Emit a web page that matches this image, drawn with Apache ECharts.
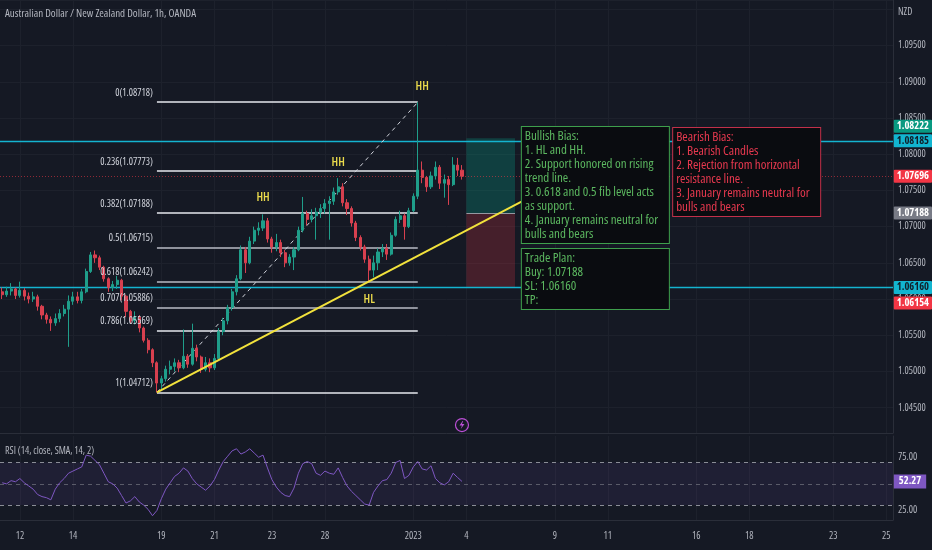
<!DOCTYPE html>
<html><head><meta charset="utf-8">
<script src="https://cdn.jsdelivr.net/npm/echarts@6/dist/echarts.min.js"></script>
<style>html,body{margin:0;padding:0;background:#151924;}#c{width:932px;height:550px;}</style>
</head><body><div id="c"></div>
<script>
const FAMILY = '"Open Sans"';
const NARROW = 'condensed';

// ---- price data (4h buckets) ----
const firstOpen = 1.0610;
const closes = [1.0606,1.0611,1.0614,1.0605,1.0612,1.0604,1.0600,1.0603,1.0590,1.0578,
  1.0572,1.0567,1.0573,1.0580,1.0586,1.0597,1.0603,1.0598,1.0610,1.0638,
  1.0661,1.0657,1.0644,1.0628,1.0616,1.0620,1.0626,1.0604,1.0583,1.0570,
  1.0575,1.0560,1.0543,1.0530,1.0512,1.0484,1.0490,1.0503,1.0507,1.0512,
  1.0505,1.0521,1.0510,1.0532,1.0520,1.0503,1.0512,1.0505,1.0518,1.0555,
  1.0570,1.0588,1.0610,1.0628,1.0668,1.0650,1.0680,1.0695,1.0698,1.0708,
  1.0683,1.0672,1.0678,1.0664,1.0650,1.0658,1.0668,1.0695,1.0718,1.0710,
  1.0715,1.0720,1.0725,1.0732,1.0735,1.0748,1.0755,1.0733,1.0725,1.0705,
  1.0685,1.0672,1.0655,1.0640,1.0650,1.0665,1.0670,1.0662,1.0688,1.0710,
  1.0715,1.0700,1.0722,1.0742,1.0778,1.0768,1.0755,1.0770,1.0782,1.0760,
  1.0765,1.0758,1.0785,1.0778,1.07696];
const highs = [1.0616,1.0617,1.0622,1.0616,1.0624,1.0615,1.0609,1.0610,1.0606,1.0592,
  1.0581,1.0576,1.0580,1.0586,1.0592,1.0605,1.0610,1.0610,1.0614,1.0642,
  1.0665,1.0667,1.0660,1.0646,1.0630,1.0625,1.0632,1.0628,1.0606,1.0585,
  1.0583,1.0578,1.0562,1.0546,1.0532,1.0514,1.0494,1.0508,1.0515,1.0518,
  1.0516,1.0558,1.0524,1.0566,1.0537,1.0522,1.0520,1.0518,1.0524,1.0560,
  1.0574,1.0592,1.0614,1.0633,1.0674,1.0672,1.0686,1.0700,1.0706,1.0717,
  1.0712,1.0686,1.0690,1.0682,1.0668,1.0662,1.0672,1.0700,1.0741,1.0722,
  1.0724,1.0726,1.0731,1.0738,1.0742,1.0754,1.0767,1.0760,1.0738,1.0728,
  1.0708,1.0688,1.0675,1.0660,1.0660,1.0670,1.0676,1.0676,1.0692,1.0714,
  1.0722,1.0718,1.0726,1.0746,1.08718,1.0790,1.0770,1.0776,1.0790,1.0785,
  1.0772,1.0770,1.0796,1.0795,1.0785];
const lows = [1.0600,1.0603,1.0605,1.0600,1.0602,1.0598,1.0594,1.0596,1.0584,1.0572,
  1.0566,1.0556,1.0563,1.0568,1.0576,1.0534,1.0592,1.0594,1.0594,1.0608,
  1.0636,1.0650,1.0640,1.0624,1.0610,1.0611,1.0614,1.0598,1.0575,1.0566,
  1.0565,1.0554,1.0540,1.0525,1.0506,1.04712,1.0474,1.0486,1.0496,1.0500,
  1.0499,1.0503,1.0505,1.0508,1.0514,1.0498,1.0500,1.0499,1.0502,1.0516,
  1.0550,1.0565,1.0584,1.0605,1.0626,1.0636,1.0648,1.0676,1.0688,1.0694,
  1.0678,1.0664,1.0666,1.0658,1.0644,1.0646,1.0640,1.0666,1.0692,1.0702,
  1.0706,1.0682,1.0712,1.0718,1.0682,1.0730,1.0744,1.0728,1.0716,1.0700,
  1.0680,1.0667,1.0650,1.0624,1.0630,1.0640,1.0658,1.0654,1.0660,1.0686,
  1.0705,1.0682,1.0698,1.0720,1.0738,1.0760,1.0748,1.0752,1.0765,1.0752,
  1.0740,1.0730,1.0756,1.0770,1.0765];
const rsiValues = [51,50,53,52,55,51,48,45,40,38,
  37,35,45,51,55,60,62,64,66,77,
  76,72,68,60,52,50,46,39,32,34,
  38,33,30,26,20,25,36,45,51,57,
  60,65,62,55,50,47,44,48,54,63,
  71,76,81,83,78,80,83,79,75,77,
  65,54,47,42,39,38,46,60,69,71,
  69,60,58,62,60,59,65,56,48,43,
  39,35,31,30,42,48,53,54,60,70,
  72,55,58,66,71,64,63,67,55,51,
  49,52,60,56,52.27];

// ---- time axis (trading-time buckets) ----
const slotCount = 202;
const xTickSlots  = [4,16,36,48,61,73,93,105,125,137,157,169,188,200];
const xTickLabels = ['12','14','19','21','23','28','2023','4','9','11','16','18','23','25'];

// ---- axes ----
const priceMin = 1.0415, priceMax = 1.1013;
const priceTicks = [1.045,1.05,1.055,1.06,1.065,1.07,1.075,1.08,1.085,1.09,1.095];
const rsiMin = 16, rsiMax = 95;
const rsiTicks = [25, 75];
const rsiLevels = [70, 50, 30];

// ---- drawings ----
const fibRatios = ['0','0.236','0.382','0.5','0.618','0.707','0.786','1'];
const fibPrices = [1.08718,1.07773,1.07188,1.06715,1.06242,1.05886,1.05569,1.04712];
const fibColors = ['#e6e8ee','#e6e8ee','#e6e8ee','#b8bbc4','#b8bbc4','#b8bbc4','#e6e8ee','#e6e8ee'];
const fibStartSlot = 35, fibEndSlot = 94;
const swingTexts = ['HH','HH','HH','HL'];
const swingSlots = [59,76,95,83];
const swingPrices = [1.0740,1.0788,1.0893,1.0599];
const trendFrom = [35, 1.04712], trendTo = [118, 1.07364];
const horizLevels = [1.08185, 1.06160];
const lastPrice = 1.07696;
const zoneSlots = [105, 116];
const tpPrice = 1.08222, entryPrice = 1.07188, slPrice = 1.06160;
const eventSlot = 104, eventPrice = 1.0426;

const bullishText = ['Bullish Bias:','1. HL and HH.','2. Support honored on rising','trend line.','3. 0.618 and 0.5 fib level acts','as support.','4. January remains neutral for','bulls and bears'];
const planText = ['Trade Plan:','Buy: 1.07188','SL: 1.06160','TP:'];
const bearishText = ['Bearish Bias:','1. Bearish Candles','2. Rejection from horizontal','resistance line.','3. January remains neutral for','bulls and bears'];
const noteAnchors = [[118, 1.08377],[118, 1.06691],[152, 1.08363]];

const tagValues = [1.08222, 1.08185, 1.07696, 1.07188, 1.06160, 1.06154];
const tagBg = ['#089981','#12b5d0','#f23645','#787b86','#12b5d0','#f23645'];
const tagFg = ['#ffffff','#10202a','#ffffff','#ffffff','#10202a','#ffffff'];
const tagShift = [-12, 0, 0, 0, 0, 15];

// ---- build ----
const cats = [];
for (let i = 0; i < slotCount; i++) cats.push('');
xTickSlots.forEach((s, i) => { cats[s] = xTickLabels[i]; });

const candles = closes.map((c, i) => [i === 0 ? firstOpen : closes[i - 1], c, lows[i], highs[i]]);
const showTick = (idx, val) => val !== '';
const lastCat = slotCount - 1;
const txt = (size, extra) => Object.assign({ fontFamily: FAMILY, fontStyle: NARROW, fontSize: size }, extra || {});

const fibLines = fibPrices.map((p, i) => [
  { coord: [fibStartSlot, p], lineStyle: { color: fibColors[i], width: 1.5, type: 'solid' } },
  { coord: [fibEndSlot, p] }
]);

const noteLabel = (lines, color, border, dx) => txt(13, {
  show: true, position: [0, 0], offset: [dx, 0], formatter: lines.join('\n'),
  color: color, lineHeight: 14, width: 141, overflow: 'none',
  backgroundColor: '#0a0c10', borderColor: border, borderWidth: 1, padding: [2, 3, 2, 3]
});

const option = {
  backgroundColor: '#151924',
  animation: false,
  textStyle: { fontFamily: FAMILY },
  title: [
    { text: 'Australian Dollar / New Zealand Dollar, 1h, OANDA', left: 5, top: 8, padding: 0,
      textStyle: txt(11, { color: '#b2b5be', fontWeight: 'normal' }) },
    { text: 'RSI (14, close, SMA, 14, 2)', left: 5, top: 446, padding: 0,
      textStyle: txt(10, { color: '#b2b5be', fontWeight: 'normal' }) }
  ],
  graphic: [
    { type: 'text', left: 898, top: 7, style: { text: 'NZD', fill: '#b2b5be', font: NARROW + ' 10px ' + FAMILY } }
  ],
  grid: [
    { left: 0, right: 39, top: 0, height: 433, outerBoundsMode: 'none', containLabel: false },
    { left: 0, right: 39, top: 436, height: 84, outerBoundsMode: 'none', containLabel: false }
  ],
  xAxis: [
    { type: 'category', gridIndex: 0, data: cats, boundaryGap: true,
      axisLine: { show: true, lineStyle: { color: '#2a2e39' } }, axisTick: { show: false }, axisLabel: { show: false },
      splitLine: { show: true, interval: showTick, alignWithLabel: true, lineStyle: { color: '#1d212c', width: 1 } } },
    { type: 'category', gridIndex: 1, data: cats, boundaryGap: true,
      axisLine: { show: true, lineStyle: { color: '#2a2e39' } }, axisTick: { show: false },
      axisLabel: txt(10, { show: true, interval: showTick, color: '#b2b5be', margin: 11 }),
      splitLine: { show: true, interval: showTick, alignWithLabel: true, lineStyle: { color: '#1d212c', width: 1 } } }
  ],
  yAxis: [
    { type: 'value', gridIndex: 0, position: 'right', min: priceMin, max: priceMax, splitNumber: 12, scale: true,
      axisLine: { show: true, lineStyle: { color: '#2a2e39' } }, axisTick: { show: false },
      axisLabel: txt(10, { customValues: priceTicks, formatter: v => v.toFixed(5), color: '#b2b5be', margin: 5 }),
      splitLine: { show: true, lineStyle: { color: '#1d212c', width: 1 } } },
    { type: 'value', gridIndex: 1, position: 'right', min: rsiMin, max: rsiMax,
      axisLine: { show: true, lineStyle: { color: '#2a2e39' } }, axisTick: { show: false },
      axisLabel: txt(10, { customValues: rsiTicks, formatter: v => v.toFixed(2), color: '#b2b5be', margin: 5 }),
      splitLine: { show: false } }
  ],
  series: [
    { name: 'zones', type: 'line', xAxisIndex: 0, yAxisIndex: 0, data: [], z: 1, silent: true,
      markArea: { silent: true, z: 1, data: [
        [{ coord: [zoneSlots[0], tpPrice], itemStyle: { color: 'rgba(8,153,129,0.30)' } }, { coord: [zoneSlots[1], entryPrice] }],
        [{ coord: [zoneSlots[0], entryPrice], itemStyle: { color: 'rgba(242,54,69,0.22)' } }, { coord: [zoneSlots[1], slPrice] }]
      ] },
      markLine: { silent: true, symbol: 'none', z: 2, precision: 5, label: { show: false }, data: [
        [{ coord: [zoneSlots[0], entryPrice], lineStyle: { color: '#9598a1', width: 1, type: 'solid' } }, { coord: [zoneSlots[1], entryPrice] }]
      ] } },
    { name: 'levels', type: 'line', xAxisIndex: 0, yAxisIndex: 0, data: [], z: 2, silent: true,
      markLine: { silent: true, symbol: 'none', z: 2, precision: 5, label: { show: false }, data: [
        { yAxis: horizLevels[0], lineStyle: { color: '#14b4d0', width: 1.3, type: 'solid', opacity: 1 } },
        { yAxis: horizLevels[1], lineStyle: { color: '#14b4d0', width: 1.3, type: 'solid', opacity: 1 } },
        { yAxis: lastPrice, lineStyle: { color: 'rgba(242,54,69,0.55)', width: 1, type: [1, 2] } }
      ] } },
    { name: 'fib', type: 'line', xAxisIndex: 0, yAxisIndex: 0, data: [], z: 3, silent: true,
      markLine: { silent: true, symbol: 'none', z: 3, precision: 5, label: { show: false }, data: fibLines.concat([
        [{ coord: [fibStartSlot, fibPrices[7]], lineStyle: { color: '#d1d4dc', width: 1, type: [4, 4] } }, { coord: [fibEndSlot, fibPrices[0]] }]
      ]) } },
    { name: 'AUDNZD', type: 'candlestick', xAxisIndex: 0, yAxisIndex: 0, data: candles, z: 4, barWidth: 2.6,
      itemStyle: { color: '#1f9e8a', color0: '#d8404f', borderColor: '#1f9e8a', borderColor0: '#d8404f', borderWidth: 1 } },
    { name: 'trend', type: 'line', xAxisIndex: 0, yAxisIndex: 0, data: [], z: 5, silent: true,
      markLine: { silent: true, symbol: 'none', z: 5, precision: 5, label: { show: false }, data: [
        [{ coord: trendFrom, lineStyle: { color: '#f2e23c', width: 2, type: 'solid' } }, { coord: trendTo }]
      ] } },
    { name: 'labels', type: 'line', xAxisIndex: 0, yAxisIndex: 0, data: [], z: 6, silent: true, clip: false,
      markPoint: { silent: true, z: 6, symbol: 'circle', symbolSize: 0, data:
        fibPrices.map((p, i) => ({ coord: [fibStartSlot, p], value: p,
          label: txt(10, { show: true, position: 'left', distance: 4, offset: [0, -9], color: '#d1d4dc',
            formatter: fibRatios[i] + '(' + p.toFixed(5) + ')' }) }))
        .concat(swingTexts.map((t, i) => ({ coord: [swingSlots[i], swingPrices[i]], value: swingPrices[i],
          label: txt(12, { show: true, position: 'inside', color: '#eadb4c', fontWeight: 600, formatter: t }) })))
        .concat([
          { coord: [eventSlot, eventPrice], value: 0, symbol: 'circle', symbolSize: 13,
            itemStyle: { color: 'rgba(0,0,0,0)', borderColor: '#bb4fd6', borderWidth: 1.2 }, label: { show: false } },
          { coord: [eventSlot, eventPrice], value: 0, symbol: 'path://M6,0 L1,9 L5,9 L3,16 L9,6 L5,6 L7,0 Z', symbolSize: [5, 8],
            itemStyle: { color: '#bb4fd6' }, label: { show: false } }
        ])
      } },
    { name: 'notes', type: 'line', xAxisIndex: 0, yAxisIndex: 0, data: [], z: 8, silent: true, clip: false,
      markPoint: { silent: true, z: 8, symbol: 'circle', symbolSize: 0, data: [
        { coord: noteAnchors[0], value: 0, label: noteLabel(bullishText, '#5cb860', '#3e9f4c', -2) },
        { coord: noteAnchors[1], value: 0, label: noteLabel(planText, '#5cb860', '#3e9f4c', -2) },
        { coord: noteAnchors[2], value: 0, label: noteLabel(bearishText, '#e8394f', '#c2304a', -1) }
      ] } },
    { name: 'tags', type: 'line', xAxisIndex: 0, yAxisIndex: 0, data: [], z: 10, silent: true, clip: false,
      markPoint: { silent: true, z: 10, symbol: 'circle', symbolSize: 0, data:
        tagValues.map((v, i) => ({ coord: [lastCat, v], value: v,
          label: txt(10.5, { show: true, position: 'right', distance: 3, offset: [0, tagShift[i]], formatter: v.toFixed(5),
            color: tagFg[i], backgroundColor: tagBg[i], fontWeight: 'bold', padding: [1, 3, 1, 3], borderRadius: 1 }) })) } },
    { name: 'RSI', type: 'line', xAxisIndex: 1, yAxisIndex: 1, data: rsiValues, z: 4, showSymbol: false, silent: true, clip: false,
      lineStyle: { color: '#7e57c2', width: 1 },
      markArea: { silent: true, z: 1, itemStyle: { color: 'rgba(126,87,194,0.10)' }, data: [[{ yAxis: rsiLevels[2] }, { yAxis: rsiLevels[0] }]] },
      markLine: { silent: true, symbol: 'none', z: 2, label: { show: false }, data: [
        { yAxis: rsiLevels[0], lineStyle: { color: '#8a8d96', width: 1, type: [4, 4] } },
        { yAxis: rsiLevels[1], lineStyle: { color: 'rgba(138,141,150,0.55)', width: 1, type: [4, 4] } },
        { yAxis: rsiLevels[2], lineStyle: { color: '#8a8d96', width: 1, type: [4, 4] } }
      ] },
      markPoint: { silent: true, z: 10, symbol: 'circle', symbolSize: 0, data: [
        { coord: [lastCat, rsiValues[rsiValues.length - 1]], value: 0,
          label: txt(10.5, { show: true, position: 'right', distance: 3, formatter: rsiValues[rsiValues.length - 1].toFixed(2),
            color: '#ffffff', backgroundColor: '#7e57c2', fontWeight: 'bold', padding: [2, 5, 1, 5] }) }
      ] } }
  ]
};

const chart = echarts.init(document.getElementById('c'), null, { renderer: 'canvas' });
chart.setOption(option);
</script>
</body></html>
